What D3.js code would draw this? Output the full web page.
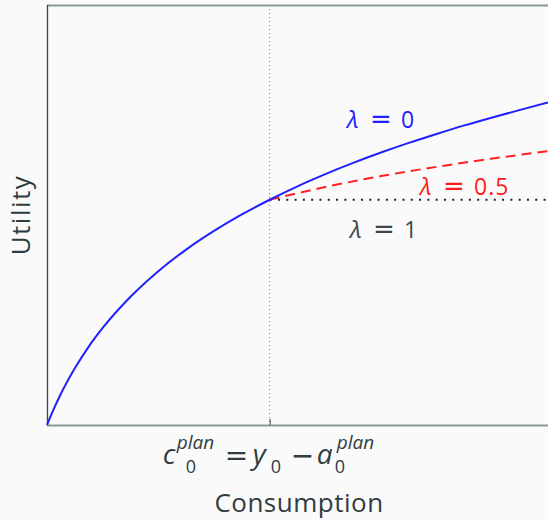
<!DOCTYPE html>
<html>
<head>
<meta charset="utf-8">
<script src="https://cdn.jsdelivr.net/npm/d3@7"></script>
<style>
  html, body { margin: 0; padding: 0; background: #fafafa; }
  svg { display: block; }
  text { font-family: "Open Sans", "Noto Sans", sans-serif; }
</style>
</head>
<body>
<svg id="chart" width="548" height="520"></svg>
<script>
// Utility of consumption (no commitment, lambda = 0)
const consumption = [0, 0.1, 0.25, 0.5, 0.75, 1, 1.5, 2, 2.5, 3, 3.5, 4, 4.5, 5, 5.5, 6, 6.5, 7, 7.5, 8, 8.5, 9];
const utilityFree = [0, 0.095, 0.223, 0.405, 0.560, 0.693, 0.916, 1.099, 1.253, 1.386, 1.504, 1.609,
                     1.705, 1.792, 1.872, 1.946, 2.015, 2.079, 2.140, 2.197, 2.251, 2.303];

// Partial commitment (lambda = 0.5), from the planned point onward
const consumptionHalf = [4, 5, 6, 7, 8, 9];
const utilityHalf = [1.609, 1.700, 1.778, 1.844, 1.903, 1.956];

// Full commitment (lambda = 1): flat at the planned utility
const consumptionFull = [4, 9];
const utilityFull = [1.609, 1.609];

// Planned consumption marker
const plannedConsumption = 4;

const xDomain = [0, 9];
const yDomain = [0, 3];

const svg = d3.select("#chart");
const plotLeft = 47, plotRight = 548, plotTop = 5, plotBottom = 425;

const x = d3.scaleLinear().domain(xDomain).range([plotLeft, plotRight]);
const y = d3.scaleLinear().domain(yDomain).range([plotBottom, plotTop]);

const line = d3.line()
  .x(d => x(d[0]))
  .y(d => y(d[1]))
  .curve(d3.curveMonotoneX);

// Vertical guide at planned consumption
svg.append("line")
  .attr("x1", x(plannedConsumption)).attr("x2", x(plannedConsumption))
  .attr("y1", y(yDomain[1])).attr("y2", y(0))
  .attr("stroke", "#6b6b6b").attr("stroke-width", 1)
  .attr("stroke-dasharray", "1,3");

// Frame
svg.append("line")
  .attr("x1", plotLeft).attr("x2", plotRight + 2).attr("y1", plotTop + 0.5).attr("y2", plotTop + 0.5)
  .attr("stroke", "#86979a").attr("stroke-width", 2);
svg.append("line")
  .attr("x1", plotLeft).attr("x2", plotRight + 2).attr("y1", plotBottom + 0.5).attr("y2", plotBottom + 0.5)
  .attr("stroke", "#8a9898").attr("stroke-width", 2);
svg.append("line")
  .attr("x1", plotLeft + 0.5).attr("x2", plotLeft + 0.5).attr("y1", plotTop).attr("y2", plotBottom)
  .attr("stroke", "#3a4649").attr("stroke-width", 1.3);

// Bottom axis with a single tick at planned consumption (label drawn separately)
const xAxis = d3.axisBottom(x).tickValues([plannedConsumption]).tickSize(-6).tickFormat("");
const ax = svg.append("g").attr("transform", `translate(0,${plotBottom})`).call(xAxis);
ax.select(".domain").remove();
ax.selectAll(".tick line").attr("stroke", "#3a4649").attr("stroke-width", 1);

// Curves
svg.append("path")
  .datum(consumptionFull.map((c, i) => [c, utilityFull[i]]))
  .attr("d", d3.line().x(d => x(d[0])).y(d => y(d[1])))
  .attr("fill", "none").attr("stroke", "#222").attr("stroke-width", 2)
  .attr("stroke-dasharray", "2,6.3");

svg.append("path")
  .datum(consumptionHalf.map((c, i) => [c, utilityHalf[i]]))
  .attr("d", line)
  .attr("fill", "none").attr("stroke", "#ff2020").attr("stroke-width", 2)
  .attr("stroke-dasharray", "10,6");

svg.append("path")
  .datum(consumption.map((c, i) => [c, utilityFree[i]]))
  .attr("d", line)
  .attr("fill", "none").attr("stroke", "#2020ff").attr("stroke-width", 2);

// Lambda labels: italic lambda, a wide math "=", then the value
const mathOp = "'DejaVu Sans', sans-serif";
function lambdaLabel(x0, baseline, value, color) {
  const t = svg.append("text")
    .attr("y", baseline)
    .attr("fill", color)
    .attr("font-size", 23);
  t.append("tspan").attr("x", x0).attr("font-style", "italic").attr("font-size", 24).text("λ");
  t.append("tspan").attr("x", x0 + 23).attr("font-family", mathOp).attr("font-size", 26).text("=");
  t.append("tspan").attr("x", x0 + 54).attr("letter-spacing", 1).text(value);
}
lambdaLabel(347, 128, "0", "#2020ff");
lambdaLabel(420, 195, "0.5", "#ff1a1a");
lambdaLabel(350, 238, "1", "#3a4649");

// Tick label: c0^plan = y0 − a0^plan, one text with positioned pieces
const textColor = "#2f3d40";
const cx = x(plannedConsumption);
const baseY = 464, subY = 473, supY = 449;
const tick = svg.append("text")
  .attr("fill", textColor)
  .attr("font-size", 28);
const piece = (dx, yy, txt, size, italic, family) => {
  const s = tick.append("tspan")
    .attr("x", cx + dx).attr("y", yy)
    .attr("font-size", size)
    .attr("font-style", italic ? "italic" : "normal")
    .text(txt);
  if (family) s.attr("font-family", family);
  return s;
};
piece(-107, baseY, "c", 28, true);
piece(-84, subY, "0", 18, false);
piece(-93, supY, "plan", 19, true);
piece(-45, baseY + 1, "=", 28, false, mathOp);
piece(-17, baseY, "y", 28, true);
piece(1, subY, "0", 18, false);
piece(21, baseY + 1, "−", 28, false, mathOp);
piece(47, baseY, "a", 28, true);
piece(65, subY, "0", 18, false);
piece(67, supY, "plan", 19, true);

// Axis titles
svg.append("text")
  .attr("x", 299).attr("y", 512)
  .attr("text-anchor", "middle")
  .attr("font-size", 26)
  .attr("letter-spacing", 0.5)
  .attr("fill", textColor)
  .text("Consumption");

svg.append("text")
  .attr("transform", "translate(30,215) rotate(-90)")
  .attr("text-anchor", "middle")
  .attr("font-size", 26)
  .attr("letter-spacing", 1.5)
  .attr("fill", textColor)
  .text("Utility");
</script>
</body>
</html>
